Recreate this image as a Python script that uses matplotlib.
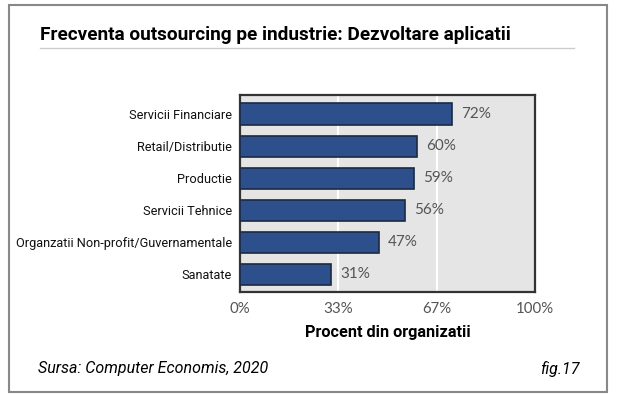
import matplotlib.pyplot as plt
from matplotlib.patches import Rectangle
from matplotlib.lines import Line2D

# Data
categories = ['Servicii Financiare', 'Retail/Distributie', 'Productie',
              'Servicii Tehnice', 'Organzatii Non-profit/Guvernamentale', 'Sanatate']
values = [72, 60, 59, 56, 47, 31]
tick_pos = [0, 33.3, 66.7, 100]
tick_labels = ['0%', '33%', '67%', '100%']

# Styles
barColour = '#2d4f8b'
edgeColour = '#1a2a44'
bgColour = '#e5e5e5'
tickColour = '#555555'

W, H = 633, 409
fig = plt.figure(figsize=(W / 100, H / 100), dpi=100)
fig.patch.set_facecolor('white')

ax = fig.add_axes([240 / W, 1 - 292 / H, 295 / W, 197 / H])
ax.set_facecolor(bgColour)
y = list(range(len(categories)))
ax.barh(y, values, height=0.67, color=barColour, edgecolor=edgeColour, linewidth=1.2, zorder=3)
for yi, v in zip(y, values):
    ax.text(v + 3, yi, f'{v}%', va='center', ha='left', fontsize=11,
            color=tickColour, fontname='Lato')

ax.set_xlim(0, 100)
ax.set_ylim(len(categories) - 0.5 + 0.05, -0.5 - 0.1)
ax.set_yticks(y)
ax.set_yticklabels(categories, fontname='Roboto', fontsize=9.2, color='#111111')
ax.set_xticks(tick_pos)
ax.set_xticklabels(tick_labels, fontname='Lato', fontsize=10.8, color=tickColour)
ax.tick_params(length=0, pad=6)
ax.tick_params(axis='x', pad=7)
ax.grid(axis='x', color='white', linewidth=1.5, zorder=1)
for s in ax.spines.values():
    s.set_color('#333333')
    s.set_linewidth(1.6)
ax.set_xlabel('Procent din organizatii', fontname='Roboto', fontweight='bold',
              fontsize=11.7, labelpad=7)

# Title, separator, footer
fig.text(40 / W, 1 - 35 / H, 'Frecventa outsourcing pe industrie: Dezvoltare aplicatii',
         fontname='Roboto', fontweight='bold', fontsize=13.7, va='center', ha='left')
fig.add_artist(Line2D([40 / W, 574 / W], [1 - 48 / H, 1 - 48 / H],
                      color='#cccccc', linewidth=1, transform=fig.transFigure))
fig.text(38 / W, 1 - 369 / H, 'Sursa: Computer Economis, 2020', fontname='Roboto',
         style='italic', fontsize=11.5, va='center', ha='left')
fig.text(580 / W, 1 - 369 / H, 'fig.17', fontname='Roboto', style='italic',
         fontsize=11.5, va='center', ha='right')

# Outer frame
fig.add_artist(Rectangle((9 / W, 1 - 392 / H), 598 / W, 387 / H, fill=False,
                         edgecolor='#888888', linewidth=1.5, transform=fig.transFigure))

plt.savefig('out.png', dpi=100)
